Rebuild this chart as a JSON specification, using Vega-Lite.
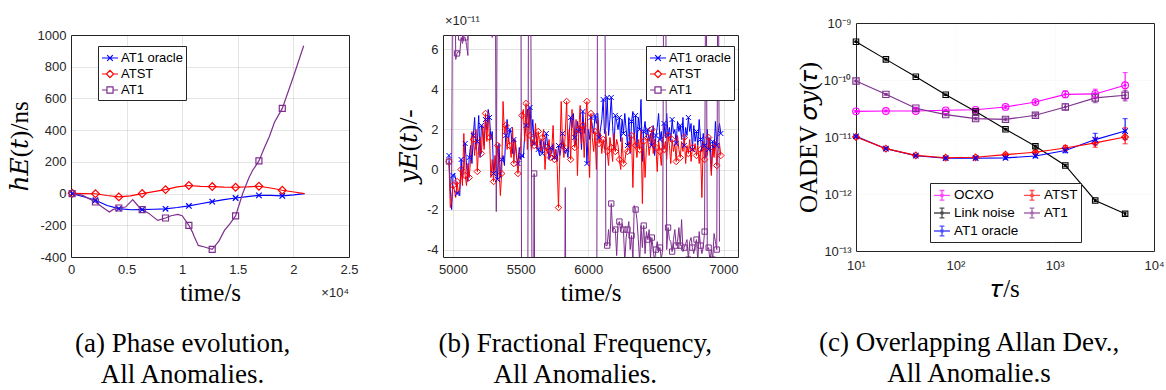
{
"$schema": "https://vega.github.io/schema/vega-lite/v6.json",
"background": "white",
"padding": {"left": 6, "top": 14, "right": 0, "bottom": 0},
"config": {
  "view": {"stroke": "#262626", "strokeWidth": 1},
  "axis": {"domain": false, "ticks": false, "grid": true, "gridColor": "#000000", "gridOpacity": 0.1, "labelFont": "Liberation Sans", "labelFontSize": 13, "labelLineHeight": 14, "labelColor": "#262626", "labelPadding": 5, "labelFlush": false, "titleFont": "Liberation Serif, DejaVu Serif", "titleFontSize": 25, "titleFontWeight": "normal", "titleColor": "#000000", "labelOverlap": false},
  "legend": {"labelFont": "Liberation Sans", "labelFontSize": 13, "labelColor": "#000000", "strokeColor": "#262626", "fillColor": "#ffffff", "padding": 4, "cornerRadius": 0, "rowPadding": 0},
  "title": {"font": "Liberation Serif", "fontSize": 27, "fontWeight": "normal", "color": "#000000"}
},
"datasets": {
  "phase": [
    {"t":100,"s":"AT1 oracle","v":0},{"t":1150,"s":"AT1 oracle","v":-20},{"t":2200,"s":"AT1 oracle","v":-42},{"t":3250,"s":"AT1 oracle","v":-75},{"t":4300,"s":"AT1 oracle","v":-95},{"t":5350,"s":"AT1 oracle","v":-102},{"t":6400,"s":"AT1 oracle","v":-101},{"t":7450,"s":"AT1 oracle","v":-99},{"t":8500,"s":"AT1 oracle","v":-96},{"t":9550,"s":"AT1 oracle","v":-88},{"t":10600,"s":"AT1 oracle","v":-78},{"t":11650,"s":"AT1 oracle","v":-64},{"t":12700,"s":"AT1 oracle","v":-51},{"t":13750,"s":"AT1 oracle","v":-38},{"t":14800,"s":"AT1 oracle","v":-28},{"t":15850,"s":"AT1 oracle","v":-19},{"t":16900,"s":"AT1 oracle","v":-11},{"t":17950,"s":"AT1 oracle","v":-11},{"t":19000,"s":"AT1 oracle","v":-15},{"t":20050,"s":"AT1 oracle","v":-8},{"t":21000,"s":"AT1 oracle","v":0},
    {"t":100,"s":"ATST","v":2},{"t":1150,"s":"ATST","v":0},{"t":2200,"s":"ATST","v":-1},{"t":3250,"s":"ATST","v":-12},{"t":4300,"s":"ATST","v":-21},{"t":5350,"s":"ATST","v":-15},{"t":6400,"s":"ATST","v":0},{"t":7450,"s":"ATST","v":12},{"t":8500,"s":"ATST","v":25},{"t":9550,"s":"ATST","v":42},{"t":10600,"s":"ATST","v":51},{"t":11650,"s":"ATST","v":46},{"t":12700,"s":"ATST","v":44},{"t":13750,"s":"ATST","v":41},{"t":14800,"s":"ATST","v":40},{"t":15850,"s":"ATST","v":42},{"t":16900,"s":"ATST","v":46},{"t":17950,"s":"ATST","v":35},{"t":19000,"s":"ATST","v":21},{"t":20050,"s":"ATST","v":10},{"t":21000,"s":"ATST","v":0},
    {"t":100,"s":"AT1","v":0},{"t":1000,"s":"AT1","v":-10},{"t":2200,"s":"AT1","v":-53},{"t":2800,"s":"AT1","v":-85},{"t":3450,"s":"AT1","v":-116},{"t":3800,"s":"AT1","v":-100},{"t":4300,"s":"AT1","v":-91},{"t":4900,"s":"AT1","v":-85},{"t":5550,"s":"AT1","v":-38},{"t":6000,"s":"AT1","v":-75},{"t":6400,"s":"AT1","v":-101},{"t":7000,"s":"AT1","v":-125},{"t":7800,"s":"AT1","v":-169},{"t":8500,"s":"AT1","v":-154},{"t":9000,"s":"AT1","v":-140},{"t":9600,"s":"AT1","v":-131},{"t":10000,"s":"AT1","v":-140},{"t":10600,"s":"AT1","v":-200},{"t":10900,"s":"AT1","v":-240},{"t":11100,"s":"AT1","v":-274},{"t":11450,"s":"AT1","v":-327},{"t":12000,"s":"AT1","v":-337},{"t":12700,"s":"AT1","v":-352},{"t":13300,"s":"AT1","v":-300},{"t":13800,"s":"AT1","v":-232},{"t":14300,"s":"AT1","v":-190},{"t":14800,"s":"AT1","v":-141},{"t":15440,"s":"AT1","v":0},{"t":16000,"s":"AT1","v":100},{"t":16340,"s":"AT1","v":147},{"t":16900,"s":"AT1","v":206},{"t":17400,"s":"AT1","v":290},{"t":17830,"s":"AT1","v":358},{"t":18300,"s":"AT1","v":450},{"t":19000,"s":"AT1","v":537},{"t":20000,"s":"AT1","v":737},{"t":20925,"s":"AT1","v":932}
  ],
  "freq": [
    {"t":4970,"AT1 oracle":0.7,"ATST":0.4,"AT1":0.4},{"t":4980,"AT1 oracle":-1.0,"ATST":-1.9,"AT1":-1.0},{"t":4990,"AT1 oracle":-2.0,"ATST":-1.6,"AT1":-0.3},{"t":5000,"AT1 oracle":-0.3,"ATST":-0.8,"AT1":15},{"t":5010,"AT1 oracle":-0.2,"ATST":-1.0,"AT1":15},{"t":5020,"AT1 oracle":-0.5,"ATST":-1.4,"AT1":5.5},{"t":5030,"AT1 oracle":-1.2,"ATST":-0.6,"AT1":5.8},{"t":5040,"AT1 oracle":-1.1,"ATST":-1.2,"AT1":5.9},{"t":5050,"AT1 oracle":-1.3,"ATST":-0.9,"AT1":5.8},{"t":5060,"AT1 oracle":0.5,"ATST":0.0,"AT1":6.6},
    {"t":5070,"AT1 oracle":-0.5,"ATST":-0.8,"AT1":6.3},{"t":5080,"AT1 oracle":0.2,"ATST":1.8,"AT1":6.6},{"t":5090,"AT1 oracle":1.3,"ATST":-0.3,"AT1":6.6},{"t":5100,"AT1 oracle":0.2,"ATST":-0.8,"AT1":6.2},{"t":5110,"AT1 oracle":-0.6,"ATST":0.3,"AT1":5.7},{"t":5120,"AT1 oracle":0.6,"ATST":-0.4,"AT1":15},{"t":5130,"AT1 oracle":1.2,"ATST":0.5,"AT1":15},{"t":5140,"AT1 oracle":0.3,"ATST":1.9,"AT1":15},{"t":5150,"AT1 oracle":1.7,"ATST":1.5,"AT1":15},{"t":5160,"AT1 oracle":2.6,"ATST":0.7,"AT1":15},
    {"t":5170,"AT1 oracle":1.0,"ATST":2.0,"AT1":15},{"t":5180,"AT1 oracle":1.4,"ATST":-0.1,"AT1":15},{"t":5190,"AT1 oracle":2.7,"ATST":1.2,"AT1":15},{"t":5200,"AT1 oracle":0.6,"ATST":1.6,"AT1":15},{"t":5210,"AT1 oracle":2.2,"ATST":0.8,"AT1":15},{"t":5220,"AT1 oracle":1.9,"ATST":2.2,"AT1":15},{"t":5230,"AT1 oracle":1.2,"ATST":1.0,"AT1":15},{"t":5240,"AT1 oracle":2.5,"ATST":2.8,"AT1":15},{"t":5250,"AT1 oracle":2.0,"ATST":1.4,"AT1":15},{"t":5260,"AT1 oracle":3.0,"ATST":2.7,"AT1":15},
    {"t":5270,"AT1 oracle":2.6,"ATST":1.6,"AT1":15},{"t":5280,"AT1 oracle":1.5,"ATST":-0.4,"AT1":15},{"t":5290,"AT1 oracle":1.9,"ATST":0.5,"AT1":6.6},{"t":5300,"AT1 oracle":-0.2,"ATST":-0.6,"AT1":15},{"t":5310,"AT1 oracle":0.3,"ATST":0.7,"AT1":15},{"t":5320,"AT1 oracle":0.7,"ATST":-0.3,"AT1":-2.1},{"t":5330,"AT1 oracle":-0.5,"ATST":1.2,"AT1":15},{"t":5340,"AT1 oracle":1.3,"ATST":0.2,"AT1":15},{"t":5350,"AT1 oracle":-0.4,"ATST":-1.3,"AT1":15},{"t":5360,"AT1 oracle":0.5,"ATST":-0.2,"AT1":15},
    {"t":5370,"AT1 oracle":0.7,"ATST":3.4,"AT1":15},{"t":5380,"AT1 oracle":0.2,"ATST":1.8,"AT1":15},{"t":5390,"AT1 oracle":1.7,"ATST":2.2,"AT1":15},{"t":5400,"AT1 oracle":2.5,"ATST":1.0,"AT1":15},{"t":5410,"AT1 oracle":1.4,"ATST":1.6,"AT1":15},{"t":5420,"AT1 oracle":2.0,"ATST":1.2,"AT1":15},{"t":5430,"AT1 oracle":1.8,"ATST":0.6,"AT1":15},{"t":5440,"AT1 oracle":0.8,"ATST":2.1,"AT1":15},{"t":5450,"AT1 oracle":1.5,"ATST":0.3,"AT1":15},{"t":5460,"AT1 oracle":1.3,"ATST":1.5,"AT1":15},
    {"t":5470,"AT1 oracle":0.6,"ATST":0.8,"AT1":15},{"t":5480,"AT1 oracle":0.3,"ATST":-0.2,"AT1":15},{"t":5490,"AT1 oracle":1.1,"ATST":0.5,"AT1":15},{"t":5500,"AT1 oracle":0.5,"ATST":1.2,"AT1":15},{"t":5510,"AT1 oracle":0.7,"ATST":2.7,"AT1":-15},{"t":5520,"AT1 oracle":0.6,"ATST":3.0,"AT1":-15},{"t":5530,"AT1 oracle":1.7,"ATST":1.4,"AT1":-15},{"t":5540,"AT1 oracle":2.2,"ATST":3.3,"AT1":-15},{"t":5550,"AT1 oracle":3.0,"ATST":1.0,"AT1":-15},{"t":5560,"AT1 oracle":2.1,"ATST":3.1,"AT1":15},
    {"t":5570,"AT1 oracle":3.1,"ATST":1.7,"AT1":15},{"t":5580,"AT1 oracle":1.6,"ATST":0.9,"AT1":1.0},{"t":5590,"AT1 oracle":2.5,"ATST":1.5,"AT1":-15},{"t":5600,"AT1 oracle":1.3,"ATST":1.2,"AT1":-0.2},{"t":5610,"AT1 oracle":1.9,"ATST":2.3,"AT1":-15},{"t":5620,"AT1 oracle":1.5,"ATST":1.0,"AT1":-15},{"t":5630,"AT1 oracle":1.0,"ATST":1.9,"AT1":-15},{"t":5640,"AT1 oracle":0.7,"ATST":1.3,"AT1":-15},{"t":5650,"AT1 oracle":1.5,"ATST":0.9,"AT1":-15},{"t":5660,"AT1 oracle":0.8,"ATST":1.6,"AT1":-15},
    {"t":5670,"AT1 oracle":1.4,"ATST":2.0,"AT1":-15},{"t":5680,"AT1 oracle":1.0,"ATST":0.0,"AT1":-15},{"t":5690,"AT1 oracle":1.8,"ATST":1.1,"AT1":-15},{"t":5700,"AT1 oracle":1.2,"ATST":0.8,"AT1":-15},{"t":5710,"AT1 oracle":0.5,"ATST":1.5,"AT1":-15},{"t":5720,"AT1 oracle":1.1,"ATST":0.6,"AT1":-15},{"t":5730,"AT1 oracle":0.8,"ATST":1.0,"AT1":-15},{"t":5740,"AT1 oracle":1.3,"ATST":2.2,"AT1":-15},{"t":5750,"AT1 oracle":0.6,"ATST":0.5,"AT1":-15},{"t":5760,"AT1 oracle":1.0,"ATST":1.0,"AT1":-15},
    {"t":5770,"AT1 oracle":0.4,"ATST":0.2,"AT1":-15},{"t":5780,"AT1 oracle":1.2,"ATST":-1.9,"AT1":-15},{"t":5790,"AT1 oracle":0.7,"ATST":0.8,"AT1":-15},{"t":5800,"AT1 oracle":1.1,"ATST":3.4,"AT1":-15},{"t":5810,"AT1 oracle":1.8,"ATST":1.2,"AT1":-15},{"t":5820,"AT1 oracle":0.9,"ATST":0.6,"AT1":-15},{"t":5830,"AT1 oracle":0.8,"ATST":1.8,"AT1":-0.9},{"t":5840,"AT1 oracle":1.0,"ATST":3.4,"AT1":-15},{"t":5850,"AT1 oracle":0.6,"ATST":1.0,"AT1":-15},{"t":5860,"AT1 oracle":1.9,"ATST":2.0,"AT1":-15},
    {"t":5870,"AT1 oracle":2.6,"ATST":0.5,"AT1":-15},{"t":5880,"AT1 oracle":2.1,"ATST":3.0,"AT1":-15},{"t":5890,"AT1 oracle":2.8,"ATST":1.8,"AT1":-15},{"t":5900,"AT1 oracle":1.6,"ATST":1.1,"AT1":-15},{"t":5910,"AT1 oracle":1.2,"ATST":2.5,"AT1":-15},{"t":5920,"AT1 oracle":2.4,"ATST":-0.3,"AT1":-15},{"t":5930,"AT1 oracle":1.9,"ATST":2.0,"AT1":-15},{"t":5940,"AT1 oracle":2.2,"ATST":3.2,"AT1":-15},{"t":5950,"AT1 oracle":1.0,"ATST":1.3,"AT1":-15},{"t":5960,"AT1 oracle":2.9,"ATST":2.2,"AT1":-15},
    {"t":5970,"AT1 oracle":1.8,"ATST":0.6,"AT1":-15},{"t":5980,"AT1 oracle":2.4,"ATST":2.6,"AT1":-15},{"t":5990,"AT1 oracle":0.3,"ATST":3.4,"AT1":-15},{"t":6000,"AT1 oracle":2.0,"ATST":1.2,"AT1":-15},{"t":6010,"AT1 oracle":1.5,"ATST":-0.4,"AT1":-15},{"t":6020,"AT1 oracle":2.6,"ATST":2.8,"AT1":-15},{"t":6030,"AT1 oracle":2.2,"ATST":1.6,"AT1":-15},{"t":6040,"AT1 oracle":1.8,"ATST":0.9,"AT1":-15},{"t":6050,"AT1 oracle":2.7,"ATST":1.9,"AT1":-15},{"t":6060,"AT1 oracle":2.3,"ATST":0.0,"AT1":-15},
    {"t":6070,"AT1 oracle":2.8,"ATST":2.5,"AT1":15},{"t":6080,"AT1 oracle":1.6,"ATST":1.3,"AT1":15},{"t":6090,"AT1 oracle":2.0,"ATST":1.8,"AT1":15},{"t":6100,"AT1 oracle":2.5,"ATST":0.8,"AT1":15},{"t":6110,"AT1 oracle":3.5,"ATST":1.5,"AT1":15},{"t":6120,"AT1 oracle":1.8,"ATST":1.0,"AT1":15},{"t":6130,"AT1 oracle":2.1,"ATST":1.9,"AT1":-3.8},{"t":6140,"AT1 oracle":3.6,"ATST":0.9,"AT1":-3.8},{"t":6150,"AT1 oracle":1.7,"ATST":0.2,"AT1":-3.0},{"t":6160,"AT1 oracle":2.5,"ATST":1.6,"AT1":-3.8},
    {"t":6170,"AT1 oracle":3.6,"ATST":1.1,"AT1":-1.7},{"t":6180,"AT1 oracle":2.2,"ATST":0.4,"AT1":-3.1},{"t":6190,"AT1 oracle":1.0,"ATST":1.8,"AT1":-2.9},{"t":6200,"AT1 oracle":2.7,"ATST":0.9,"AT1":-3.0},{"t":6210,"AT1 oracle":2.4,"ATST":1.5,"AT1":-4.3},{"t":6220,"AT1 oracle":2.0,"ATST":1.2,"AT1":-2.7},{"t":6230,"AT1 oracle":2.6,"ATST":0.5,"AT1":-2.6},{"t":6240,"AT1 oracle":1.4,"ATST":0.0,"AT1":-3.1},{"t":6250,"AT1 oracle":2.5,"ATST":1.6,"AT1":-2.7},{"t":6260,"AT1 oracle":1.8,"ATST":0.3,"AT1":-3.0},
    {"t":6270,"AT1 oracle":2.8,"ATST":0.4,"AT1":-4.6},{"t":6280,"AT1 oracle":2.0,"ATST":0.9,"AT1":-3.4},{"t":6290,"AT1 oracle":1.2,"ATST":0.9,"AT1":-3.0},{"t":6300,"AT1 oracle":2.6,"ATST":1.4,"AT1":-2.6},{"t":6310,"AT1 oracle":0.8,"ATST":0.9,"AT1":-4.0},{"t":6320,"AT1 oracle":2.4,"ATST":1.7,"AT1":-3.3},{"t":6330,"AT1 oracle":2.9,"ATST":-0.9,"AT1":-4.5},{"t":6340,"AT1 oracle":1.5,"ATST":1.8,"AT1":-1.8},{"t":6350,"AT1 oracle":2.7,"ATST":1.2,"AT1":-2.0},{"t":6360,"AT1 oracle":1.1,"ATST":0.6,"AT1":-2.5},
    {"t":6370,"AT1 oracle":2.6,"ATST":1.5,"AT1":-3.5},{"t":6380,"AT1 oracle":2.0,"ATST":1.0,"AT1":-4.6},{"t":6390,"AT1 oracle":3.5,"ATST":2.0,"AT1":-2.8},{"t":6400,"AT1 oracle":0.4,"ATST":-1.7,"AT1":-3.9},{"t":6410,"AT1 oracle":1.9,"ATST":1.4,"AT1":-2.8},{"t":6420,"AT1 oracle":2.4,"ATST":-0.4,"AT1":-4.2},{"t":6430,"AT1 oracle":1.6,"ATST":1.1,"AT1":-3.1},{"t":6440,"AT1 oracle":2.0,"ATST":1.6,"AT1":-3.5},{"t":6450,"AT1 oracle":1.4,"ATST":0.7,"AT1":-3.0},{"t":6460,"AT1 oracle":1.8,"ATST":1.3,"AT1":-4.4},
    {"t":6470,"AT1 oracle":1.2,"ATST":2.0,"AT1":-3.4},{"t":6480,"AT1 oracle":2.2,"ATST":0.8,"AT1":-4.0},{"t":6490,"AT1 oracle":0.7,"ATST":1.5,"AT1":-4.6},{"t":6500,"AT1 oracle":1.7,"ATST":1.1,"AT1":-4.0},{"t":6510,"AT1 oracle":2.1,"ATST":-0.1,"AT1":-3.6},{"t":6520,"AT1 oracle":2.8,"ATST":1.5,"AT1":-4.1},{"t":6530,"AT1 oracle":1.5,"ATST":0.9,"AT1":-3.9},{"t":6540,"AT1 oracle":1.9,"ATST":0.2,"AT1":-4.5},{"t":6550,"AT1 oracle":1.0,"ATST":1.6,"AT1":-4.0},{"t":6560,"AT1 oracle":2.3,"ATST":1.0,"AT1":15},
    {"t":6570,"AT1 oracle":1.6,"ATST":1.4,"AT1":15},{"t":6580,"AT1 oracle":2.8,"ATST":0.5,"AT1":-4.0},{"t":6590,"AT1 oracle":1.7,"ATST":1.7,"AT1":-2.9},{"t":6600,"AT1 oracle":2.1,"ATST":1.2,"AT1":-3.5},{"t":6610,"AT1 oracle":1.4,"ATST":0.3,"AT1":-3.6},{"t":6620,"AT1 oracle":2.5,"ATST":1.5,"AT1":-4.1},{"t":6630,"AT1 oracle":1.8,"ATST":0.9,"AT1":-3.5},{"t":6640,"AT1 oracle":2.0,"ATST":1.3,"AT1":-3.0},{"t":6650,"AT1 oracle":1.3,"ATST":0.4,"AT1":-3.8},{"t":6660,"AT1 oracle":2.4,"ATST":1.7,"AT1":-3.6},
    {"t":6670,"AT1 oracle":1.9,"ATST":1.0,"AT1":-2.9},{"t":6680,"AT1 oracle":2.2,"ATST":0.6,"AT1":-3.8},{"t":6690,"AT1 oracle":1.5,"ATST":1.4,"AT1":-2.5},{"t":6700,"AT1 oracle":2.6,"ATST":0.9,"AT1":-4.1},{"t":6710,"AT1 oracle":1.2,"ATST":1.6,"AT1":-3.9},{"t":6720,"AT1 oracle":2.1,"ATST":0.3,"AT1":-3.7},{"t":6730,"AT1 oracle":1.7,"ATST":1.2,"AT1":-3.5},{"t":6740,"AT1 oracle":2.6,"ATST":0.8,"AT1":-4.5},{"t":6750,"AT1 oracle":1.9,"ATST":1.5,"AT1":-3.6},{"t":6760,"AT1 oracle":2.3,"ATST":0.4,"AT1":-3.4},
    {"t":6770,"AT1 oracle":1.0,"ATST":1.1,"AT1":-3.9},{"t":6780,"AT1 oracle":2.2,"ATST":0.9,"AT1":-4.2},{"t":6790,"AT1 oracle":1.4,"ATST":1.3,"AT1":-3.8},{"t":6800,"AT1 oracle":1.9,"ATST":0.7,"AT1":-3.5},{"t":6810,"AT1 oracle":1.2,"ATST":1.2,"AT1":-4.6},{"t":6820,"AT1 oracle":2.5,"ATST":0.3,"AT1":-3.1},{"t":6830,"AT1 oracle":1.5,"ATST":1.0,"AT1":-3.8},{"t":6840,"AT1 oracle":0.9,"ATST":-1.4,"AT1":-4.2},{"t":6850,"AT1 oracle":1.8,"ATST":1.4,"AT1":-3.9},{"t":6860,"AT1 oracle":1.2,"ATST":0.5,"AT1":-3.1},
    {"t":6870,"AT1 oracle":0.6,"ATST":1.2,"AT1":15},{"t":6880,"AT1 oracle":2.0,"ATST":0.7,"AT1":-4.0},{"t":6890,"AT1 oracle":1.0,"ATST":1.6,"AT1":-3.9},{"t":6900,"AT1 oracle":1.6,"ATST":0.8,"AT1":-4.6},{"t":6910,"AT1 oracle":-0.1,"ATST":-0.3,"AT1":-4.0},{"t":6920,"AT1 oracle":1.4,"ATST":1.1,"AT1":-4.5},{"t":6930,"AT1 oracle":0.9,"ATST":0.6,"AT1":-3.2},{"t":6940,"AT1 oracle":2.4,"ATST":1.4,"AT1":-3.6},{"t":6950,"AT1 oracle":1.2,"ATST":0.2,"AT1":-4.0},{"t":6960,"AT1 oracle":1.9,"ATST":1.0,"AT1":15},
    {"t":6970,"AT1 oracle":2.3,"ATST":1.3,"AT1":-3.6},{"t":6980,"AT1 oracle":1.8,"ATST":0.7,"AT1":null}
  ],
  "oadev": [
    {"tau":10,"s":"OCXO","v":2.82e-11,"lo":2.72e-11,"hi":2.92e-11},{"tau":20,"s":"OCXO","v":2.86e-11,"lo":2.76e-11,"hi":2.96e-11},{"tau":40,"s":"OCXO","v":2.86e-11,"lo":2.74e-11,"hi":2.98e-11},{"tau":80,"s":"OCXO","v":2.94e-11,"lo":2.8e-11,"hi":3.08e-11},{"tau":160,"s":"OCXO","v":3.0e-11,"lo":2.84e-11,"hi":3.16e-11},{"tau":320,"s":"OCXO","v":3.37e-11,"lo":3.15e-11,"hi":3.6e-11},{"tau":640,"s":"OCXO","v":4.1e-11,"lo":3.8e-11,"hi":4.45e-11},{"tau":1280,"s":"OCXO","v":5.6e-11,"lo":4.9e-11,"hi":6.5e-11},{"tau":2560,"s":"OCXO","v":5.7e-11,"lo":4.7e-11,"hi":6.9e-11},{"tau":5120,"s":"OCXO","v":8.1e-11,"lo":4.6e-11,"hi":1.35e-10},
    {"tau":10,"s":"Link noise","v":4.7e-10,"lo":4.6e-10,"hi":4.8e-10},{"tau":20,"s":"Link noise","v":2.3e-10,"lo":2.25e-10,"hi":2.35e-10},{"tau":40,"s":"Link noise","v":1.14e-10,"lo":1.11e-10,"hi":1.17e-10},{"tau":80,"s":"Link noise","v":5.5e-11,"lo":5.35e-11,"hi":5.65e-11},{"tau":160,"s":"Link noise","v":2.8e-11,"lo":2.7e-11,"hi":2.9e-11},{"tau":320,"s":"Link noise","v":1.37e-11,"lo":1.32e-11,"hi":1.42e-11},{"tau":640,"s":"Link noise","v":6.9e-12,"lo":6.6e-12,"hi":7.2e-12},{"tau":1280,"s":"Link noise","v":3.17e-12,"lo":3.02e-12,"hi":3.32e-12},{"tau":2560,"s":"Link noise","v":7.7e-13,"lo":7.3e-13,"hi":8.1e-13},{"tau":5120,"s":"Link noise","v":4.5e-13,"lo":4.15e-13,"hi":4.85e-13},
    {"tau":10,"s":"AT1 oracle","v":1.03e-11,"lo":9.9e-12,"hi":1.07e-11},{"tau":20,"s":"AT1 oracle","v":6.25e-12,"lo":6.0e-12,"hi":6.5e-12},{"tau":40,"s":"AT1 oracle","v":4.7e-12,"lo":4.5e-12,"hi":4.9e-12},{"tau":80,"s":"AT1 oracle","v":4.25e-12,"lo":4.05e-12,"hi":4.45e-12},{"tau":160,"s":"AT1 oracle","v":4.25e-12,"lo":4.05e-12,"hi":4.45e-12},{"tau":320,"s":"AT1 oracle","v":4.3e-12,"lo":4.05e-12,"hi":4.55e-12},{"tau":640,"s":"AT1 oracle","v":4.65e-12,"lo":4.35e-12,"hi":5.0e-12},{"tau":1280,"s":"AT1 oracle","v":5.8e-12,"lo":5.3e-12,"hi":6.4e-12},{"tau":2560,"s":"AT1 oracle","v":9.0e-12,"lo":7.3e-12,"hi":1.16e-11},{"tau":5120,"s":"AT1 oracle","v":1.27e-11,"lo":9.0e-12,"hi":2.1e-11},
    {"tau":10,"s":"ATST","v":1.0e-11,"lo":9.6e-12,"hi":1.04e-11},{"tau":20,"s":"ATST","v":6.25e-12,"lo":6.0e-12,"hi":6.5e-12},{"tau":40,"s":"ATST","v":4.76e-12,"lo":4.55e-12,"hi":4.97e-12},{"tau":80,"s":"ATST","v":4.33e-12,"lo":4.12e-12,"hi":4.54e-12},{"tau":160,"s":"ATST","v":4.4e-12,"lo":4.17e-12,"hi":4.63e-12},{"tau":320,"s":"ATST","v":4.9e-12,"lo":4.6e-12,"hi":5.2e-12},{"tau":640,"s":"ATST","v":5.4e-12,"lo":5.0e-12,"hi":5.8e-12},{"tau":1280,"s":"ATST","v":6.4e-12,"lo":5.8e-12,"hi":7.1e-12},{"tau":2560,"s":"ATST","v":7.9e-12,"lo":6.6e-12,"hi":9.6e-12},{"tau":5120,"s":"ATST","v":1.0e-11,"lo":7.6e-12,"hi":1.45e-11},
    {"tau":10,"s":"AT1","v":9.6e-11,"lo":9.3e-11,"hi":9.9e-11},{"tau":20,"s":"AT1","v":5.6e-11,"lo":5.4e-11,"hi":5.8e-11},{"tau":40,"s":"AT1","v":3.2e-11,"lo":3.08e-11,"hi":3.32e-11},{"tau":80,"s":"AT1","v":2.47e-11,"lo":2.36e-11,"hi":2.58e-11},{"tau":160,"s":"AT1","v":2.1e-11,"lo":1.99e-11,"hi":2.21e-11},{"tau":320,"s":"AT1","v":2.04e-11,"lo":1.92e-11,"hi":2.17e-11},{"tau":640,"s":"AT1","v":2.4e-11,"lo":2.24e-11,"hi":2.58e-11},{"tau":1280,"s":"AT1","v":3.37e-11,"lo":3.0e-11,"hi":3.8e-11},{"tau":2560,"s":"AT1","v":4.85e-11,"lo":4.0e-11,"hi":5.9e-11},{"tau":5120,"s":"AT1","v":5.4e-11,"lo":4.3e-11,"hi":6.6e-11}
  ]
},
"resolve": {"scale": {"x": "independent", "y": "independent", "color": "independent", "shape": "independent"}, "legend": {"color": "independent", "shape": "independent"}},
"spacing": 56,
"hconcat": [
  {
    "resolve": {"scale": {"x": "independent", "y": "independent", "color": "independent", "shape": "independent"}, "legend": {"color": "independent", "shape": "independent"}},
    "spacing": 36,
    "hconcat": [
      {
        "spacing": 10,
        "bounds": "flush",
        "vconcat": [
          {"width": 278, "height": 2, "data": {"values": []}, "mark": "point", "view": {"stroke": null}},
          {
            "width": 278, "height": 222,
            "title": {"text": ["(a) Phase evolution,", "All Anomalies."], "orient": "bottom", "anchor": "middle", "frame": "bounds", "offset": 26, "dx": 0, "lineHeight": 31},
            "data": {"name": "phase"},
            "layer": [
              {"mark": {"type": "line", "strokeWidth": 1.2},
               "encoding": {
                 "x": {"field": "t", "type": "quantitative", "title": "time/s", "scale": {"domain": [0, 25000], "nice": false, "zero": false}, "axis": {"values": [0, 5000, 10000, 15000, 20000, 25000], "labelExpr": "'' + datum.value / 10000", "labelPadding": 6, "titlePadding": 4, "labelOverlap": false, "labelFlush": false}},
                 "y": {"field": "v", "type": "quantitative", "title": "ℎ𝐸(𝑡)/ns", "scale": {"domain": [-400, 1000], "nice": false, "zero": false}, "axis": {"values": [-400, -200, 0, 200, 400, 600, 800, 1000], "tickCount": 8, "labelExpr": "'' + datum.value", "titlePadding": 5, "labelOverlap": false, "labelSeparation": 0, "labelBound": false, "labelFlush": false}},
                 "color": {"field": "s", "type": "nominal", "scale": {"domain": ["AT1 oracle", "ATST", "AT1"], "range": ["#0000ff", "#ff0000", "#7e2f8e"]}}
               }},
              {"transform": [{"filter": "false"}],
               "mark": {"type": "point", "filled": false, "strokeWidth": 1.2},
               "encoding": {
                 "x": {"field": "t", "type": "quantitative", "title": "time/s"},
                 "y": {"field": "v", "type": "quantitative", "title": "ℎ𝐸(𝑡)/ns"},
                 "color": {"field": "s", "type": "nominal",
                   "legend": {"orient": "none", "legendX": 27, "legendY": 23, "title": null, "symbolSize": 256, "symbolStrokeWidth": 1.2, "symbolOpacity": 1, "labelOffset": 2, "padding": 3}},
                 "shape": {"field": "s", "type": "nominal", "scale": {"domain": ["AT1 oracle", "ATST", "AT1"], "range": ["M-1,0H1M-0.35,-0.35L0.35,0.35M-0.35,0.35L0.35,-0.35", "M-1,0H-0.45M0.45,0H1M0,-0.45L0.45,0L0,0.45L-0.45,0Z", "M-1,0H-0.38M0.38,0H1M-0.38,-0.38H0.38V0.38H-0.38Z"]}}
               }},
              {"transform": [{"filter": {"field": "t", "oneOf": [100, 2200, 4300, 6400, 8500, 10600, 12700, 14800, 16900, 19000]}}, {"filter": {"field": "s", "equal": "AT1 oracle"}}],
               "mark": {"type": "point", "filled": false, "strokeWidth": 1.2, "opacity": 1, "shape": "M-1,-1L1,1M-1,1L1,-1", "size": 30},
               "encoding": {
                 "x": {"field": "t", "type": "quantitative", "title": "time/s"},
                 "y": {"field": "v", "type": "quantitative", "title": "ℎ𝐸(𝑡)/ns"},
                 "color": {"field": "s", "type": "nominal"}
               }},
              {"transform": [{"filter": {"field": "t", "oneOf": [100, 2200, 4300, 6400, 8500, 10600, 12700, 14800, 16900, 19000]}}, {"filter": {"field": "s", "equal": "ATST"}}],
               "mark": {"type": "point", "filled": false, "strokeWidth": 1.2, "opacity": 1, "shape": "diamond", "size": 60},
               "encoding": {
                 "x": {"field": "t", "type": "quantitative", "title": "time/s"},
                 "y": {"field": "v", "type": "quantitative", "title": "ℎ𝐸(𝑡)/ns"},
                 "color": {"field": "s", "type": "nominal"}
               }},
              {"transform": [{"filter": {"field": "t", "oneOf": [100, 2200, 4300, 6400, 8500, 10600, 12700, 14800, 16900, 19000]}}, {"filter": {"field": "s", "equal": "AT1"}}],
               "mark": {"type": "point", "filled": false, "strokeWidth": 1.2, "opacity": 1, "shape": "square", "size": 36},
               "encoding": {
                 "x": {"field": "t", "type": "quantitative", "title": "time/s"},
                 "y": {"field": "v", "type": "quantitative", "title": "ℎ𝐸(𝑡)/ns"},
                 "color": {"field": "s", "type": "nominal"}
               }},
              {"data": {"values": [{}]},
               "mark": {"type": "text", "text": "×10⁴", "align": "right", "baseline": "middle", "dy": 36, "font": "Liberation Sans", "fontSize": 13, "color": "#262626"},
               "encoding": {"x": {"datum": 25000, "type": "quantitative"}, "y": {"datum": -400, "type": "quantitative"}}}
            ]
          }
        ]
      },
      {
        "spacing": 10,
        "bounds": "flush",
        "vconcat": [
          {"width": 295, "height": 2, "data": {"values": []}, "mark": "point", "view": {"stroke": null}},
          {
            "width": 295, "height": 222,
            "title": {"text": ["(b) Fractional Frequency,", "All Anomalies."], "orient": "bottom", "anchor": "middle", "frame": "bounds", "offset": 26, "dx": 8, "lineHeight": 31},
            "data": {"name": "freq"},
            "transform": [{"fold": ["AT1 oracle", "ATST", "AT1"], "as": ["s", "v"]}],
            "layer": [
              {"mark": {"type": "line", "strokeWidth": 1, "clip": true},
               "encoding": {
                 "x": {"field": "t", "type": "quantitative", "title": "time/s", "scale": {"domain": [4926, 7107], "nice": false, "zero": false}, "axis": {"values": [5000, 5500, 6000, 6500, 7000], "labelExpr": "'' + datum.value", "labelPadding": 6, "titlePadding": 4, "labelOverlap": false, "labelFlush": false}},
                 "y": {"field": "v", "type": "quantitative", "title": "𝑦𝐸(𝑡)/-", "scale": {"domain": [-4.37, 6.72], "nice": false, "zero": false}, "axis": {"values": [-4, -2, 0, 2, 4, 6], "labelExpr": "'' + datum.value", "titlePadding": 5, "labelOverlap": false, "labelFlush": false}},
                 "color": {"field": "s", "type": "nominal", "scale": {"domain": ["AT1 oracle", "ATST", "AT1"], "range": ["#0000ff", "#ff0000", "#7e2f8e"]}}
               }},
              {"transform": [{"filter": "false"}],
               "mark": {"type": "point", "filled": false, "strokeWidth": 1.2},
               "encoding": {
                 "x": {"field": "t", "type": "quantitative", "title": "time/s"},
                 "y": {"field": "v", "type": "quantitative", "title": "𝑦𝐸(𝑡)/-"},
                 "color": {"field": "s", "type": "nominal",
                   "legend": {"orient": "none", "legendX": 203, "legendY": 23, "title": null, "symbolSize": 256, "symbolStrokeWidth": 1.2, "symbolOpacity": 1, "labelOffset": 2, "padding": 3}},
                 "shape": {"field": "s", "type": "nominal", "scale": {"domain": ["AT1 oracle", "ATST", "AT1"], "range": ["M-1,0H1M-0.35,-0.35L0.35,0.35M-0.35,0.35L0.35,-0.35", "M-1,0H-0.45M0.45,0H1M0,-0.45L0.45,0L0,0.45L-0.45,0Z", "M-1,0H-0.38M0.38,0H1M-0.38,-0.38H0.38V0.38H-0.38Z"]}}
               }},
              {"transform": [{"filter": "(datum.t - 4970) % 30 == 0 && datum.s == 'AT1 oracle'"}],
               "mark": {"type": "point", "filled": false, "strokeWidth": 1, "opacity": 1, "clip": true, "shape": "M-1,-1L1,1M-1,1L1,-1", "size": 25},
               "encoding": {
                 "x": {"field": "t", "type": "quantitative", "title": "time/s"},
                 "y": {"field": "v", "type": "quantitative", "title": "𝑦𝐸(𝑡)/-"},
                 "color": {"field": "s", "type": "nominal"}
               }},
              {"transform": [{"filter": "(datum.t - 4970) % 30 == 0 && datum.s == 'ATST'"}],
               "mark": {"type": "point", "filled": false, "strokeWidth": 1, "opacity": 1, "clip": true, "shape": "diamond", "size": 42},
               "encoding": {
                 "x": {"field": "t", "type": "quantitative", "title": "time/s"},
                 "y": {"field": "v", "type": "quantitative", "title": "𝑦𝐸(𝑡)/-"},
                 "color": {"field": "s", "type": "nominal"}
               }},
              {"transform": [{"filter": "(datum.t - 4970) % 30 == 0 && datum.s == 'AT1'"}],
               "mark": {"type": "point", "filled": false, "strokeWidth": 1, "opacity": 1, "clip": true, "shape": "square", "size": 28},
               "encoding": {
                 "x": {"field": "t", "type": "quantitative", "title": "time/s"},
                 "y": {"field": "v", "type": "quantitative", "title": "𝑦𝐸(𝑡)/-"},
                 "color": {"field": "s", "type": "nominal"}
               }},
              {"data": {"values": [{}]},
               "mark": {"type": "text", "text": "×10⁻¹¹", "align": "left", "baseline": "bottom", "dy": -7, "dx": 2, "font": "Liberation Sans", "fontSize": 13, "color": "#262626"},
               "encoding": {"x": {"datum": 4926, "type": "quantitative"}, "y": {"datum": 6.72, "type": "quantitative"}}}
            ]
          }
        ]
      }
    ]
  },
  {
    "width": 298, "height": 228,
    "title": {"text": ["(c) Overlapping Allan Dev.,", "All Anomalie.s"], "orient": "bottom", "anchor": "middle", "frame": "bounds", "offset": 29, "dx": -11, "lineHeight": 31},
    "data": {"name": "oadev"},
    "layer": [
      {"mark": {"type": "line", "strokeWidth": 1.1},
       "encoding": {
         "x": {"field": "tau", "type": "quantitative", "title": "𝜏/s", "scale": {"type": "log", "domain": [10, 10000], "nice": false},
           "axis": {"values": [10,20,30,40,50,60,70,80,90,100,200,300,400,500,600,700,800,900,1000,2000,3000,4000,5000,6000,7000,8000,9000,10000],
             "labelExpr": "datum.value == 10 ? '10¹' : datum.value == 100 ? '10²' : datum.value == 1000 ? '10³' : datum.value == 10000 ? '10⁴' : ''",
             "gridDash": {"condition": {"test": "indexof([10, 100, 1000, 10000], datum.value) >= 0", "value": []}, "value": [1, 2]},
             "gridOpacity": {"condition": {"test": "indexof([10, 100, 1000, 10000], datum.value) >= 0", "value": 0.14}, "value": 0.12},
             "labelPadding": 8, "titlePadding": 4, "labelOverlap": false, "labelFlush": false}},
         "y": {"field": "v", "type": "quantitative", "title": "OADEV 𝜎𝑦(𝜏)", "scale": {"type": "log", "domain": [1e-13, 1e-9], "nice": false},
           "axis": {"values": [1e-13,2e-13,3e-13,4e-13,5e-13,6e-13,7e-13,8e-13,9e-13,1e-12,2e-12,3e-12,4e-12,5e-12,6e-12,7e-12,8e-12,9e-12,1e-11,2e-11,3e-11,4e-11,5e-11,6e-11,7e-11,8e-11,9e-11,1e-10,2e-10,3e-10,4e-10,5e-10,6e-10,7e-10,8e-10,9e-10,1e-9],
             "labelExpr": "datum.value == 1e-9 ? '10⁻⁹' : datum.value == 1e-10 ? '10⁻¹⁰' : datum.value == 1e-11 ? '10⁻¹¹' : datum.value == 1e-12 ? '10⁻¹²' : datum.value == 1e-13 ? '10⁻¹³' : ''",
             "gridDash": {"condition": {"test": "indexof([1e-13, 1e-12, 1e-11, 1e-10, 1e-9], datum.value) >= 0", "value": []}, "value": [1, 2]},
             "gridOpacity": {"condition": {"test": "indexof([1e-13, 1e-12, 1e-11, 1e-10, 1e-9], datum.value) >= 0", "value": 0.14}, "value": 0.12},
             "titlePadding": 2, "labelOverlap": false, "labelFlush": false}},
         "color": {"field": "s", "type": "nominal", "scale": {"domain": ["OCXO", "Link noise", "AT1 oracle", "ATST", "AT1"], "range": ["#ff00ff", "#000000", "#0000ff", "#ff0000", "#7e2f8e"]}}
       }},
      {"mark": {"type": "rule", "strokeWidth": 1.1},
       "encoding": {
         "x": {"field": "tau", "type": "quantitative", "title": "𝜏/s"},
         "y": {"field": "lo", "type": "quantitative", "title": "OADEV 𝜎𝑦(𝜏)"},
         "y2": {"field": "hi"},
         "color": {"field": "s", "type": "nominal"}
       }},
      {"mark": {"type": "tick", "orient": "horizontal", "size": 5, "thickness": 1.1},
       "encoding": {
         "x": {"field": "tau", "type": "quantitative", "title": "𝜏/s"},
         "y": {"field": "lo", "type": "quantitative", "title": "OADEV 𝜎𝑦(𝜏)"},
         "color": {"field": "s", "type": "nominal"}
       }},
      {"mark": {"type": "tick", "orient": "horizontal", "size": 5, "thickness": 1.1},
       "encoding": {
         "x": {"field": "tau", "type": "quantitative", "title": "𝜏/s"},
         "y": {"field": "hi", "type": "quantitative", "title": "OADEV 𝜎𝑦(𝜏)"},
         "color": {"field": "s", "type": "nominal"}
       }},
      {"mark": {"type": "point", "filled": true, "size": 8, "opacity": 1},
       "encoding": {
         "x": {"field": "tau", "type": "quantitative", "title": "𝜏/s"},
         "y": {"field": "v", "type": "quantitative", "title": "OADEV 𝜎𝑦(𝜏)"},
         "color": {"field": "s", "type": "nominal"}
       }},
      {"transform": [{"filter": {"field": "s", "equal": "OCXO"}}],
       "mark": {"type": "point", "filled": false, "strokeWidth": 1.1, "opacity": 1, "shape": "circle", "size": 45},
       "encoding": {
         "x": {"field": "tau", "type": "quantitative", "title": "𝜏/s"},
         "y": {"field": "v", "type": "quantitative", "title": "OADEV 𝜎𝑦(𝜏)"},
         "color": {"field": "s", "type": "nominal",
           "legend": {"orient": "none", "legendX": 74, "legendY": 160, "title": null, "columns": 2, "columnPadding": 2, "symbolSize": 256, "symbolStrokeWidth": 1.3, "labelOffset": 3, "labelFontSize": 13.5, "rowPadding": 1, "padding": 3,
             "symbolType": "M-1,0H1M0,-0.6V0.6M-0.3,-0.6H0.3M-0.3,0.6H0.3M-0.12,-0.12H0.12V0.12H-0.12Z"}}
       }},
      {"transform": [{"filter": {"field": "s", "equal": "ATST"}}],
       "mark": {"type": "point", "filled": false, "strokeWidth": 1.1, "opacity": 1, "shape": "diamond", "size": 45},
       "encoding": {
         "x": {"field": "tau", "type": "quantitative", "title": "𝜏/s"},
         "y": {"field": "v", "type": "quantitative", "title": "OADEV 𝜎𝑦(𝜏)"},
         "color": {"field": "s", "type": "nominal"}
       }},
      {"transform": [{"filter": {"field": "s", "equal": "Link noise"}}],
       "mark": {"type": "point", "filled": false, "strokeWidth": 1.1, "opacity": 1, "shape": "square", "size": 30},
       "encoding": {
         "x": {"field": "tau", "type": "quantitative", "title": "𝜏/s"},
         "y": {"field": "v", "type": "quantitative", "title": "OADEV 𝜎𝑦(𝜏)"},
         "color": {"field": "s", "type": "nominal"}
       }},
      {"transform": [{"filter": {"field": "s", "equal": "AT1"}}],
       "mark": {"type": "point", "filled": false, "strokeWidth": 1.1, "opacity": 1, "shape": "square", "size": 40},
       "encoding": {
         "x": {"field": "tau", "type": "quantitative", "title": "𝜏/s"},
         "y": {"field": "v", "type": "quantitative", "title": "OADEV 𝜎𝑦(𝜏)"},
         "color": {"field": "s", "type": "nominal"}
       }},
      {"transform": [{"filter": {"field": "s", "equal": "AT1 oracle"}}],
       "mark": {"type": "point", "filled": false, "strokeWidth": 1.1, "opacity": 1, "shape": "M-1,-1L1,1M-1,1L1,-1", "size": 30},
       "encoding": {
         "x": {"field": "tau", "type": "quantitative", "title": "𝜏/s"},
         "y": {"field": "v", "type": "quantitative", "title": "OADEV 𝜎𝑦(𝜏)"},
         "color": {"field": "s", "type": "nominal"}
       }}
    ]
  }
]
}
